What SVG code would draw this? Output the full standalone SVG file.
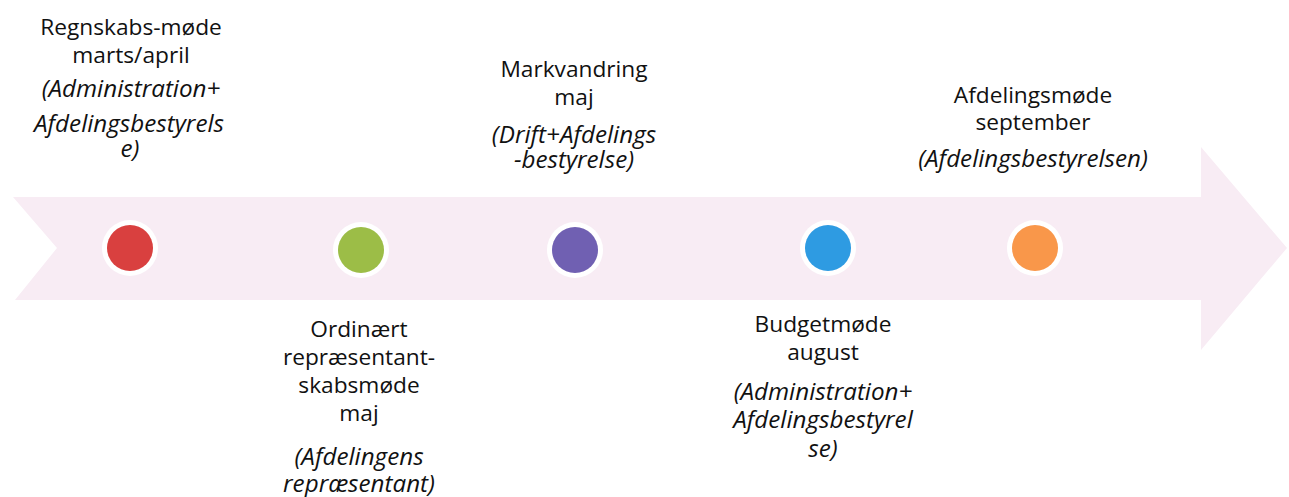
<svg xmlns="http://www.w3.org/2000/svg" width="1289" height="497" viewBox="0 0 1289 497">
  <style>
    text { font-family: "Open Sans", "Noto Sans", "DejaVu Sans", sans-serif; font-size: 22.7px; fill: #111; text-anchor: middle; }
    .role { font-style: italic; font-size: 24.2px; }
    .halo { fill: #ffffff; }
  </style>
  <rect width="1289" height="497" fill="#ffffff"/>

  <!-- timeline arrow -->
  <g id="timeline">
    <polygon points="13,197 1201,197 1201,147 1287,248 1201,350 1201,300 15,300 57,248" fill="#f8ecf4"/>
  </g>

  <!-- milestones -->
  <g id="regnskabsmoede">
    <circle class="halo" cx="130" cy="248" r="28"/>
    <circle cx="130" cy="248" r="23" fill="#d9403f"/>
    <text x="131" y="35">Regnskabs-møde</text>
    <text x="131" y="63">marts/april</text>
    <text class="role" x="131" y="97">(Administration+</text>
    <text class="role" x="129" y="132">Afdelingsbestyrels</text>
    <text class="role" x="130" y="157">e)</text>
  </g>

  <g id="repraesentantskabsmoede">
    <circle class="halo" cx="361" cy="250" r="28"/>
    <circle cx="361" cy="250" r="23" fill="#9cbd47"/>
    <text x="359" y="337">Ordinært</text>
    <text x="359" y="365">repræsentant-</text>
    <text x="359" y="393">skabsmøde</text>
    <text x="359" y="421">maj</text>
    <text class="role" x="359" y="465">(Afdelingens</text>
    <text class="role" x="359" y="492">repræsentant)</text>
  </g>

  <g id="markvandring">
    <circle class="halo" cx="575" cy="250" r="28"/>
    <circle cx="575" cy="250" r="23" fill="#7060b2"/>
    <text x="574" y="77">Markvandring</text>
    <text x="574" y="105">maj</text>
    <text class="role" x="574" y="143">(Drift+Afdelings</text>
    <text class="role" x="574" y="168">-bestyrelse)</text>
  </g>

  <g id="budgetmoede">
    <circle class="halo" cx="828" cy="248" r="28"/>
    <circle cx="828" cy="248" r="23" fill="#2e9be2"/>
    <text x="823" y="332">Budgetmøde</text>
    <text x="823" y="360">august</text>
    <text class="role" x="823" y="400">(Administration+</text>
    <text class="role" x="823" y="428">Afdelingsbestyrel</text>
    <text class="role" x="823" y="457">se)</text>
  </g>

  <g id="afdelingsmoede">
    <circle class="halo" cx="1035" cy="248" r="28"/>
    <circle cx="1035" cy="248" r="23" fill="#f9974a"/>
    <text x="1033" y="103">Afdelingsmøde</text>
    <text x="1033" y="130">september</text>
    <text class="role" x="1033" y="167">(Afdelingsbestyrelsen)</text>
  </g>
</svg>
